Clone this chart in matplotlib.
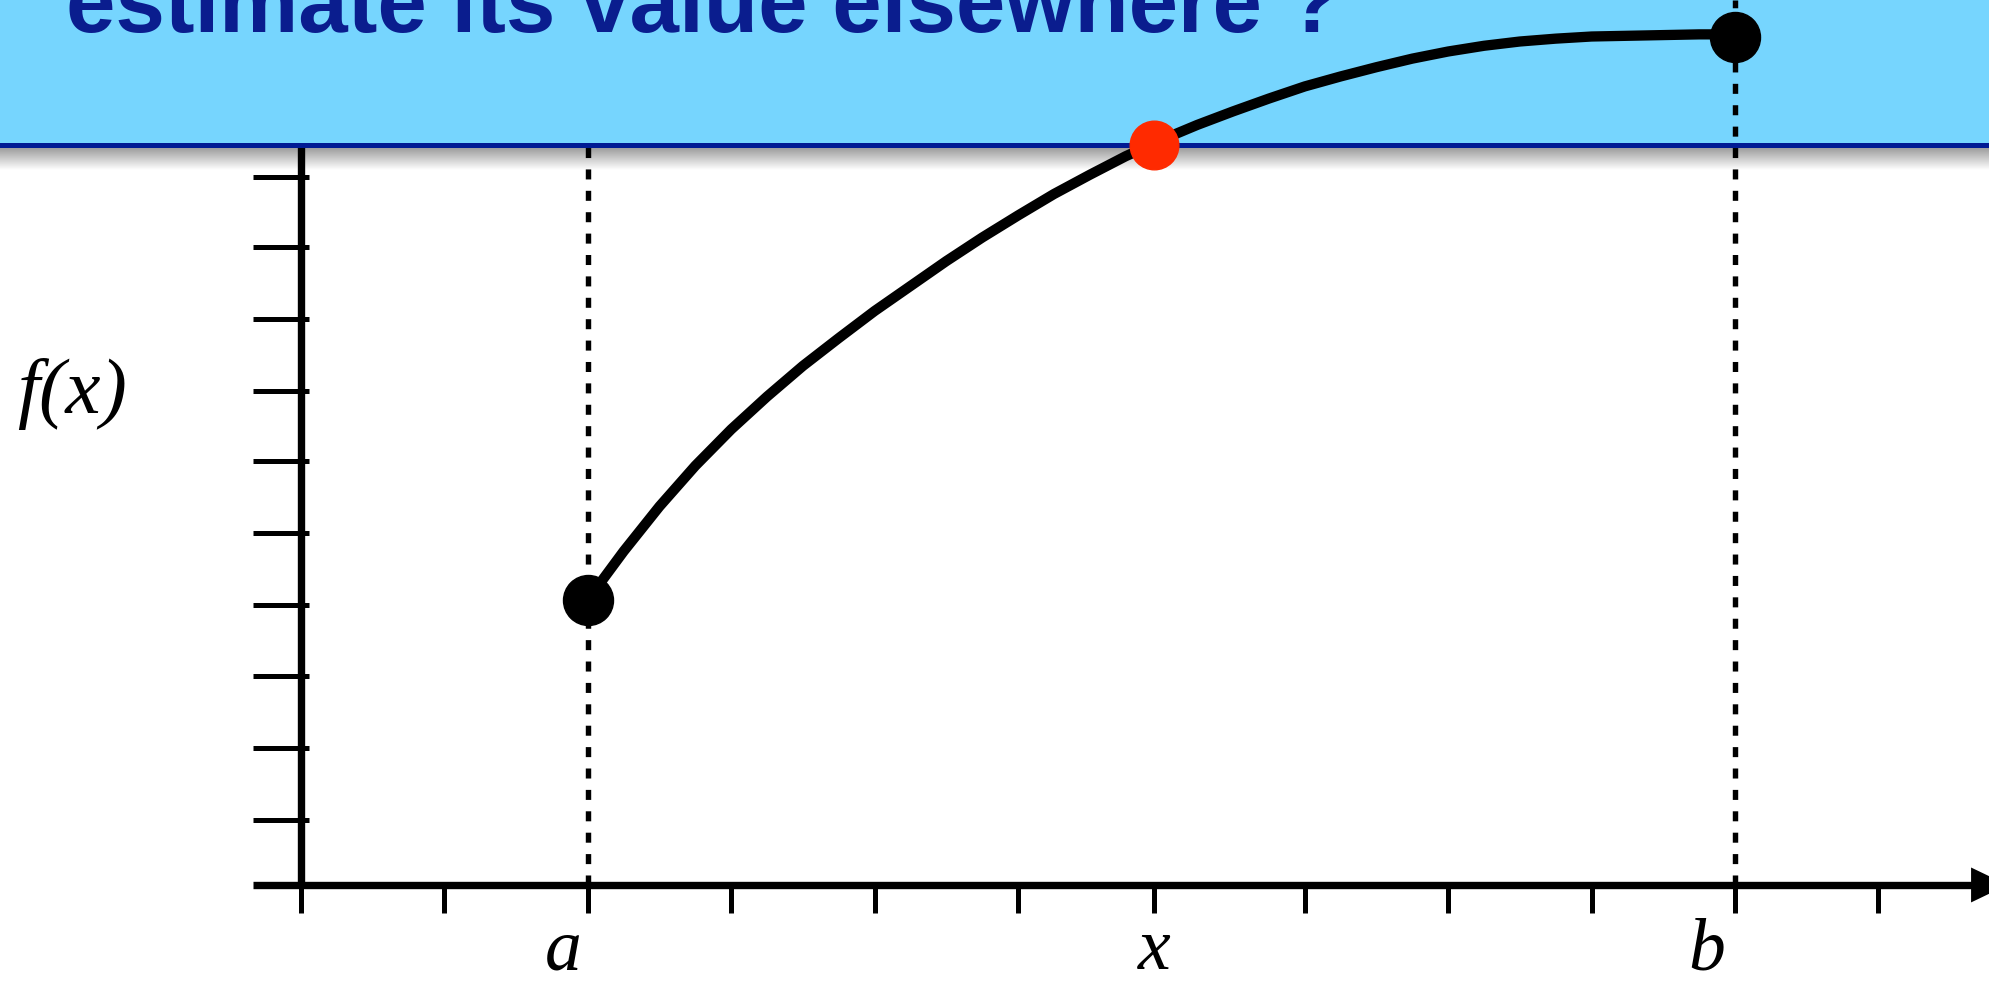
import matplotlib
matplotlib.use("Agg")
import matplotlib.pyplot as plt
import numpy as np

# curve f(x) (x in tick steps, y in tick steps)
curve_x = [2.00, 2.25, 2.50, 2.75, 3.00, 3.25, 3.50, 3.75, 4.00, 4.25, 4.50,
           4.75, 5.00, 5.25, 5.50, 5.75, 6.00, 6.25, 6.50, 6.75, 7.00, 7.25,
           7.50, 7.75, 8.00, 8.25, 8.50, 8.75, 9.00, 9.25, 9.50, 9.75, 10.00]
curve_y = [4.00, 4.68, 5.31, 5.88, 6.39, 6.85, 7.28, 7.67, 8.05, 8.40, 8.75,
           9.08, 9.39, 9.69, 9.96, 10.22, 10.45, 10.66, 10.85, 11.03, 11.20, 11.34,
           11.47, 11.59, 11.69, 11.77, 11.83, 11.87, 11.90, 11.91, 11.92, 11.93, 11.93]

known_x = [2.00, 10.00]
known_y = [4.00, 11.90]
query_x = [5.95]
query_y = [10.38]

x_ticks = [0, 1, 2, 3, 4, 5, 5.95, 7, 8, 9, 10, 11]
y_ticks = [0.91, 1.92, 2.93, 3.93, 4.94, 5.95, 6.93, 7.94, 8.95, 9.93]

x_labels = ["a", "x", "b"]
x_label_pos = [1.83, 5.95, 9.80]
y_label = "f(x)"
title = "estimate its value elsewhere ?"

# view window (tick units)
XMIN, XMAX = -2.099, 11.778
YMIN, YMAX = -1.417, 12.412
BANNER_LOW = 10.41
NAVY_LOW = 10.34
SHADOW_LOW = 10.03

BANNER_BLUE = "#76D5FE"
NAVY = "#001A94"
TEXT_NAVY = "#0A1D8E"

fig = plt.figure(figsize=(19.9, 9.86), dpi=100)
ax = fig.add_axes([0, 0, 1, 1])
ax.set_xlim(XMIN, XMAX)
ax.set_ylim(YMIN, YMAX)
ax.axis("off")

# shadow under the banner
grad = np.linspace(0.6, 1.0, 64).reshape(-1, 1)
ax.imshow(grad, cmap="gray", vmin=0, vmax=1, aspect="auto",
          extent=(XMIN, XMAX, SHADOW_LOW, NAVY_LOW), zorder=0.5, interpolation="bilinear")

# axes
ax.plot([0, 0], [0, YMAX], color="black", lw=5.3, solid_capstyle="butt", zorder=1)
ax.plot([-0.335, 11.66], [0, 0], color="black", lw=5.3, solid_capstyle="butt", zorder=1)
ax.fill([11.646, 11.90, 11.646], [0.245, 0, -0.245], color="black", lw=0, zorder=1)
for t in y_ticks:
    ax.plot([-0.335, 0.056], [t, t], color="black", lw=3.6, solid_capstyle="butt", zorder=1)
for t in x_ticks:
    ax.plot([t, t], [0, -0.393], color="black", lw=3.6, solid_capstyle="butt", zorder=1)

# dashed guides
ax.plot([known_x[0], known_x[0]], [0, YMAX], color="black", lw=3.9,
        dashes=(1.85, 2.1), dash_capstyle="butt", zorder=1)

# banner
ax.axhspan(BANNER_LOW, YMAX, color=BANNER_BLUE, lw=0, zorder=2)
ax.axhspan(NAVY_LOW, BANNER_LOW, color=NAVY, lw=0, zorder=2)

ax.plot([known_x[1], known_x[1]], [0, YMAX], color="black", lw=3.9,
        dashes=(1.85, 2.1), dash_capstyle="butt", zorder=3)

# curve and points
ax.plot(curve_x, curve_y, color="black", lw=7.4, solid_capstyle="round",
        solid_joinstyle="round", zorder=4)
ax.plot(known_x, known_y, "o", color="black", ms=36, zorder=5)
ax.plot(query_x, query_y, "o", color="#FF2A00", ms=35, zorder=5)

for lab, pos in zip(x_labels, x_label_pos):
    ax.text(pos, -1.185, lab, ha="center", va="baseline", fontsize=53,
            family="Liberation Serif", style="italic", zorder=6)
ax.text(-1.597, 6.62, y_label, ha="center", va="baseline", fontsize=57,
        family="Liberation Serif", style="italic", zorder=6)

fig.text(66 / 1990, 1 - 32 / 986, title, ha="left", va="baseline", fontsize=64,
         family="Liberation Sans", weight="bold", color=TEXT_NAVY, zorder=6)

fig.savefig("out.png", dpi=100)
plt.close(fig)
